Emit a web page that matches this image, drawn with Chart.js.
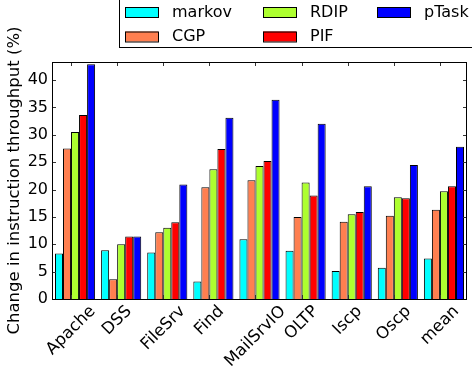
<!DOCTYPE html>
<html>
<head>
<meta charset="utf-8">
<script src="https://cdn.jsdelivr.net/npm/chart.js@4/dist/chart.umd.min.js"></script>
<style>
  html, body { margin: 0; padding: 0; background: #fff; }
  #wrap { width: 472px; height: 366px; }
</style>
</head>
<body>
<div id="wrap"><canvas id="c" width="472" height="366"></canvas></div>
<script>
// Workloads on the x axis
const categories = ['Apache', 'DSS', 'FileSrv', 'Find', 'MailSrvIO', 'OLTP', 'Iscp', 'Oscp', 'mean'];

// Change in instruction throughput (%) per prefetcher
const markov = [8.3, 8.9, 8.5, 3.2, 10.9, 8.8, 5.1, 5.7, 7.4];
const cgp    = [27.5, 3.6, 12.2, 20.4, 21.7, 15.0, 14.1, 15.2, 16.3];
const rdip   = [30.5, 10.0, 13.0, 23.7, 24.3, 21.3, 15.5, 18.6, 19.7];
const pif    = [33.6, 11.4, 14.0, 27.4, 25.2, 18.9, 15.9, 18.4, 20.6];
const ptask  = [42.9, 11.4, 20.9, 33.1, 36.4, 32.0, 20.6, 24.5, 27.8];

// y axis ticks
const yTicks = [0, 5, 10, 15, 20, 25, 30, 35, 40];
const yMax = 43.3;

const FONT = "'DejaVu Sans', 'Liberation Sans', sans-serif";

const series = [
  { label: 'markov', data: markov, color: '#00ffff' },
  { label: 'CGP',    data: cgp,    color: '#ff7f50' },
  { label: 'RDIP',   data: rdip,   color: '#adff2f' },
  { label: 'PIF',    data: pif,    color: '#ff0000' },
  { label: 'pTask',  data: ptask,  color: '#0000ff' }
];

// Axes box, inward tick marks, rotated category labels and the legend
const decorations = {
  id: 'decorations',
  afterDatasetsDraw(chart) {
    const { ctx, chartArea: a, scales: { x, y } } = chart;
    const barW = chart.getDatasetMeta(0).data[0].width;
    ctx.save();
    // tick marks pointing into the plot
    ctx.strokeStyle = '#333';
    ctx.lineWidth = 1;
    ctx.beginPath();
    yTicks.forEach(v => {
      const py = Math.round(y.getPixelForValue(v)) + 0.5;
      ctx.moveTo(a.left, py); ctx.lineTo(a.left + 4, py);
      ctx.moveTo(a.right, py); ctx.lineTo(a.right - 4, py);
    });
    categories.forEach((c, i) => {
      const px = Math.round(x.getPixelForValue(i) - barW / 2) + 0.5;
      ctx.moveTo(px, a.top); ctx.lineTo(px, a.top + 4);
      ctx.moveTo(px, a.bottom); ctx.lineTo(px, a.bottom - 4);
    });
    ctx.stroke();
    // frame
    ctx.strokeStyle = '#000';
    ctx.strokeRect(Math.round(a.left) + 0.5, Math.round(a.top) + 0.5,
                   Math.round(a.right - a.left) - 1, Math.round(a.bottom - a.top));
    ctx.restore();
  },
  afterDraw(chart) {
    const { ctx, chartArea: a, scales: { x } } = chart;
    const barW = chart.getDatasetMeta(0).data[0].width;
    ctx.save();
    // category labels rotated by 45 degrees, bounding box centred on the tick
    const fs = 16.5;
    ctx.font = fs + 'px ' + FONT;
    ctx.fillStyle = '#000';
    ctx.textAlign = 'center';
    ctx.textBaseline = 'middle';
    categories.forEach((c, i) => {
      const tx = x.getPixelForValue(i) - barW / 2;
      const L = ctx.measureText(c).width;
      const side = (L + fs * 1.16) * Math.SQRT1_2;
      ctx.save();
      ctx.translate(tx, a.bottom + 3 + side / 2);
      ctx.rotate(-Math.PI / 4);
      ctx.fillText(c, 0, 0);
      ctx.restore();
    });

    // legend
    ctx.strokeStyle = '#000';
    ctx.lineWidth = 1;
    ctx.strokeRect(119.5, -10.5, 400, 58);
    const cols = [125, 263, 377];
    const rows = [7, 31.5];
    ctx.font = '16px ' + FONT;
    ctx.textAlign = 'left';
    chart.data.datasets.forEach((ds, i) => {
      const cx = cols[Math.floor(i / 2)];
      const ry = rows[i % 2];
      ctx.fillStyle = ds.backgroundColor;
      ctx.fillRect(cx, ry, 33, 10);
      ctx.strokeRect(cx + 0.5, ry + 0.5, 33, 10);
      ctx.fillStyle = '#000';
      ctx.fillText(ds.label, cx + 47, ry + 5.5);
    });
    ctx.restore();
  }
};

new Chart(document.getElementById('c'), {
  type: 'bar',
  data: {
    labels: categories,
    datasets: series.map(s => ({
      label: s.label,
      data: s.data,
      backgroundColor: s.color,
      borderColor: '#000',
      borderWidth: 1,
      barPercentage: 1.0,
      categoryPercentage: 0.87
    }))
  },
  options: {
    responsive: false,
    animation: false,
    devicePixelRatio: 1,
    layout: { padding: { top: 62, right: 5, left: 0, bottom: 0 } },
    plugins: { legend: { display: false }, tooltip: { enabled: false } },
    scales: {
      x: {
        grid: { display: false, drawTicks: false },
        border: { display: false },
        ticks: { display: false },
        afterFit(scale) { scale.height = 67; }
      },
      y: {
        min: 0,
        max: yMax,
        afterBuildTicks(scale) { scale.ticks = yTicks.map(v => ({ value: v })); },
        grid: { display: false, drawTicks: false },
        border: { display: false },
        ticks: {
          padding: 4,
          color: '#000',
          font: { family: FONT, size: 16 },
          callback: v => String(v)
        },
        title: {
          display: true,
          text: 'Change in instruction throughput (%)',
          color: '#000',
          font: { family: FONT, size: 16.5 },
          padding: { top: 5, bottom: 0 }
        },
        afterFit(scale) { scale.width = 52; }
      }
    }
  },
  plugins: [decorations]
});
</script>
</body>
</html>
